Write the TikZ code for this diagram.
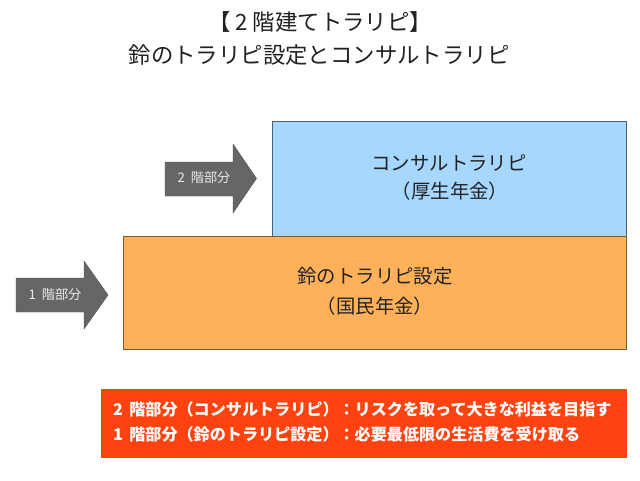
\documentclass[tikz,border=0pt]{standalone}
\usepackage{fontspec}
\setmainfont{Noto Sans CJK JP}
\definecolor{bluebox}{HTML}{A6D7FE}
\definecolor{orangebox}{HTML}{FFB15A}
\definecolor{redbox}{HTML}{FF4310}
\definecolor{arrowgrey}{HTML}{666666}
\definecolor{ink}{HTML}{222222}
\newcommand{\dg}[1]{\makebox[1em][l]{#1}}
\newcommand{\dgc}[1]{\makebox[1em][c]{#1}}
\tikzset{
  titletext/.style={font=\fontsize{22.4}{22.4}\selectfont,text=ink,inner sep=0pt},
  boxtext/.style={font=\fontsize{19.4}{19.4}\selectfont,text=ink,inner sep=0pt},
  arrowtext/.style={font=\fontsize{13.2}{13.2}\selectfont,text=white!92!black,inner sep=0pt},
  notetext/.style={font=\bfseries\fontsize{16.1}{16.1}\selectfont,text=white,inner sep=0pt,anchor=west},
  bluetier/.style={draw=bluebox!45!black,fill=bluebox,line width=0.7pt},
  orangetier/.style={draw=orangebox!50!black,fill=orangebox,line width=0.7pt},
  tag/.style={fill=arrowgrey,draw=arrowgrey!80!black,line width=0.4pt}
}
\begin{document}
\begin{tikzpicture}[x=1pt,y=-1pt]
\useasboundingbox (0,0) rectangle (640,480);
\fill[white] (0,0) rectangle (640,480);
\node[titletext] (t1) at (320,22) {【\dgc{2}階建てトラリピ】};
\node[titletext] (t2) at (319,55) {鈴のトラリピ設定とコンサルトラリピ};
\draw[bluetier] (272.5,121) rectangle (626.5,236);
\draw[orangetier] (123.5,236) rectangle (626.5,349.5);
\node[boxtext] (b1) at (449,163) {コンサルトラリピ};
\node[boxtext] (b2) at (450,191) {（厚生年金）};
\node[boxtext] (o1) at (375,276) {鈴のトラリピ設定};
\node[boxtext] (o2) at (375,306) {（国民年金）};
\draw[tag] (165,162) -- (233,162) -- (233,144) -- (256.5,178.5) -- (233,213) -- (233,196) -- (165,196) -- cycle;
\draw[tag] (16,278) -- (84,278) -- (84,261) -- (108,295) -- (84,329) -- (84,312) -- (16,312) -- cycle;
\node[arrowtext] (a2) at (204,178) {\dg{2}階部分};
\node[arrowtext] (a1) at (55,295) {\dg{1}階部分};
\fill[redbox] (101,389) rectangle (627,458);
\node[notetext] (n1) at (113,409) {\dg{2}階部分（コンサルトラリピ）：リスクを取って大きな利益を目指す};
\node[notetext] (n2) at (113,434) {\dg{1}階部分（鈴のトラリピ設定）：必要最低限の生活費を受け取る};
\end{tikzpicture}
\end{document}
